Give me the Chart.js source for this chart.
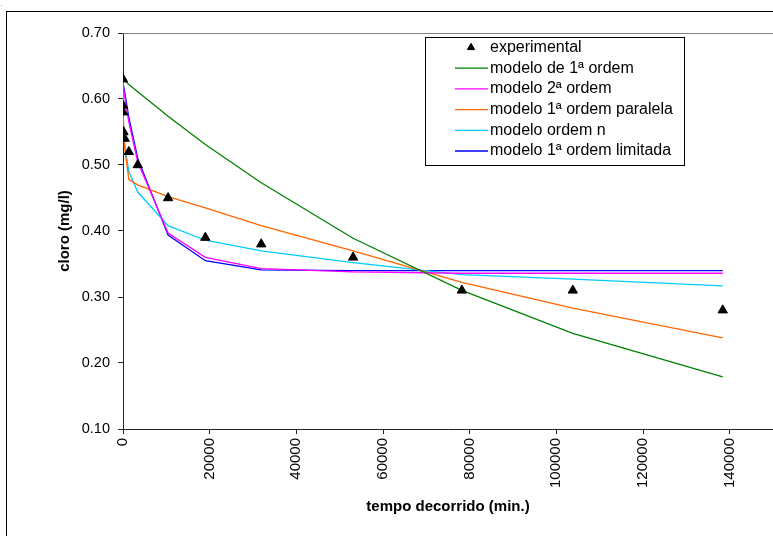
<!DOCTYPE html>
<html>
<head>
<meta charset="utf-8">
<script src="https://cdn.jsdelivr.net/npm/chart.js@4.4.1/dist/chart.umd.min.js"></script>
<style>
  html, body { margin: 0; padding: 0; background: #fff; }
  #wrap { width: 773px; height: 536px; position: relative; }
</style>
</head>
<body>
<div id="wrap"><canvas id="chart" width="773" height="536"></canvas></div>
<script>
const times = [0, 20, 45, 120, 400, 1350, 3400, 10400, 19000, 31900, 53100, 78200, 103800, 138400];
const experimental = [0.63, 0.59, 0.58, 0.55, 0.54, 0.52, 0.50, 0.45, 0.39, 0.38, 0.36, 0.31, 0.31, 0.28];
const firstOrder = [0.63, 0.63, 0.63, 0.629, 0.628, 0.622, 0.611, 0.574, 0.531, 0.473, 0.389, 0.310, 0.245, 0.179];
const secondOrder = [0.63, 0.628, 0.625, 0.618, 0.603, 0.565, 0.505, 0.397, 0.360, 0.343, 0.338, 0.336, 0.336, 0.336];
const parallelOrder = [0.63, 0.615, 0.60, 0.575, 0.525, 0.478, 0.470, 0.452, 0.435, 0.408, 0.370, 0.322, 0.283, 0.238];
const nthOrder = [0.63, 0.60, 0.585, 0.56, 0.53, 0.49, 0.459, 0.408, 0.386, 0.370, 0.352, 0.334, 0.327, 0.317];
const limitedOrder = [0.63, 0.629, 0.627, 0.622, 0.61, 0.572, 0.51, 0.394, 0.355, 0.341, 0.340, 0.340, 0.340, 0.340];

const xTicks = { min: 0, max: 150000, step: 20000 };
const yTicks = { min: 0.10, max: 0.70, step: 0.10 };

const FONT = "'Liberation Sans', Arial, sans-serif";

const toPoints = (ys) => ys.map((y, i) => ({ x: times[i], y: y }));

const lineSet = (label, values, color) => ({
  label: label,
  data: toPoints(values),
  showLine: true,
  borderColor: color,
  backgroundColor: color,
  borderWidth: 1.3,
  pointRadius: 0,
  pointHoverRadius: 0,
  fill: false,
  order: 1
});

const datasets = [
  {
    label: 'experimental',
    data: toPoints(experimental),
    showLine: false,
    pointStyle: 'triangle',
    pointRadius: 5.4,
    pointBackgroundColor: '#000',
    pointBorderColor: '#000',
    pointBorderWidth: 1,
    order: 0
  },
  lineSet('modelo de 1ª ordem', firstOrder, '#008000'),
  lineSet('modelo 2ª ordem', secondOrder, '#ff00ff'),
  lineSet('modelo 1ª ordem paralela', parallelOrder, '#ff6600'),
  lineSet('modelo ordem n', nthOrder, '#00ccff'),
  lineSet('modelo 1ª ordem limitada', limitedOrder, '#0000ff')
];

// frame, plot border and the boxed legend
const decorations = {
  id: 'decorations',
  beforeDatasetsDraw(chart) {
    const { ctx, chartArea: a } = chart;
    ctx.save();
    ctx.strokeStyle = '#808080';
    ctx.lineWidth = 1;
    ctx.beginPath();
    ctx.moveTo(a.left, a.top + 0.5);
    ctx.lineTo(a.right, a.top + 0.5);
    ctx.stroke();
    ctx.restore();
  },
  afterDraw(chart) {
    const { ctx } = chart;
    ctx.save();
    ctx.strokeStyle = '#000';
    ctx.lineWidth = 1;
    ctx.strokeRect(6.5, 11.5, 900, 700);
    ctx.fillStyle = '#999';
    ctx.fillRect(1, 5, 1, 1);

    const box = { x: 425.5, y: 37.5, w: 259, h: 128 };
    ctx.fillStyle = '#fff';
    ctx.fillRect(box.x, box.y, box.w, box.h);
    ctx.strokeStyle = '#000';
    ctx.strokeRect(box.x, box.y, box.w, box.h);

    ctx.font = '16px ' + FONT;
    ctx.textBaseline = 'middle';
    ctx.textAlign = 'left';
    chart.data.datasets.forEach((ds, i) => {
      const y = 47.5 + i * 20.7;
      if (ds.showLine) {
        ctx.strokeStyle = ds.borderColor;
        ctx.lineWidth = 1.3;
        ctx.beginPath();
        ctx.moveTo(455, y);
        ctx.lineTo(488, y);
        ctx.stroke();
      } else {
        ctx.fillStyle = '#000';
        ctx.strokeStyle = '#000';
        ctx.lineWidth = 1;
        Chart.helpers.drawPoint(ctx, { pointStyle: 'triangle', radius: 4.2, borderWidth: 1 }, 471, y);
      }
      ctx.fillStyle = '#000';
      ctx.fillText(ds.label, 490, y);
    });
    ctx.restore();
  }
};

new Chart(document.getElementById('chart'), {
  type: 'scatter',
  data: { datasets: datasets },
  plugins: [decorations],
  options: {
    responsive: false,
    animation: false,
    events: [],
    layout: { autoPadding: false, padding: { top: 33, right: 0, bottom: 0, left: 0 } },
    plugins: {
      legend: { display: false },
      tooltip: { enabled: false }
    },
    scales: {
      x: {
        type: 'linear',
        min: xTicks.min,
        suggestedMax: xTicks.max,
        bounds: 'data',
        afterBuildTicks: (s) => { s.ticks = s.ticks.filter(t => t.value % xTicks.step === 0); },
        afterFit: (s) => { s.height = 107; s.paddingLeft = 0; s.paddingRight = 0; },
        border: { color: '#222', width: 1 },
        grid: { drawOnChartArea: false, drawTicks: true, tickLength: 5, color: '#222' },
        ticks: {
          stepSize: xTicks.step,
          minRotation: 90,
          maxRotation: 90,
          padding: 4,
          color: '#000',
          font: { family: FONT, size: 15 },
          callback: (v) => String(v)
        },
        title: {
          display: true,
          text: 'tempo decorrido (min.)',
          color: '#000',
          font: { family: FONT, size: 15, weight: 'bold' },
          padding: { top: 0, bottom: 20 }
        }
      },
      y: {
        type: 'linear',
        min: yTicks.min,
        max: yTicks.max,
        afterFit: (s) => { s.width = 123; },
        border: { color: '#222', width: 1 },
        grid: { drawOnChartArea: false, drawTicks: true, tickLength: 5, color: '#222' },
        ticks: {
          stepSize: yTicks.step,
          padding: 8,
          color: '#000',
          font: { family: FONT, size: 14.5 },
          callback: (v) => v.toFixed(2)
        },
        title: {
          display: true,
          text: 'cloro (mg/l)',
          color: '#000',
          font: { family: FONT, size: 15, weight: 'bold' },
          padding: { top: 56, bottom: 0 }
        }
      }
    }
  }
});
</script>
</body>
</html>
